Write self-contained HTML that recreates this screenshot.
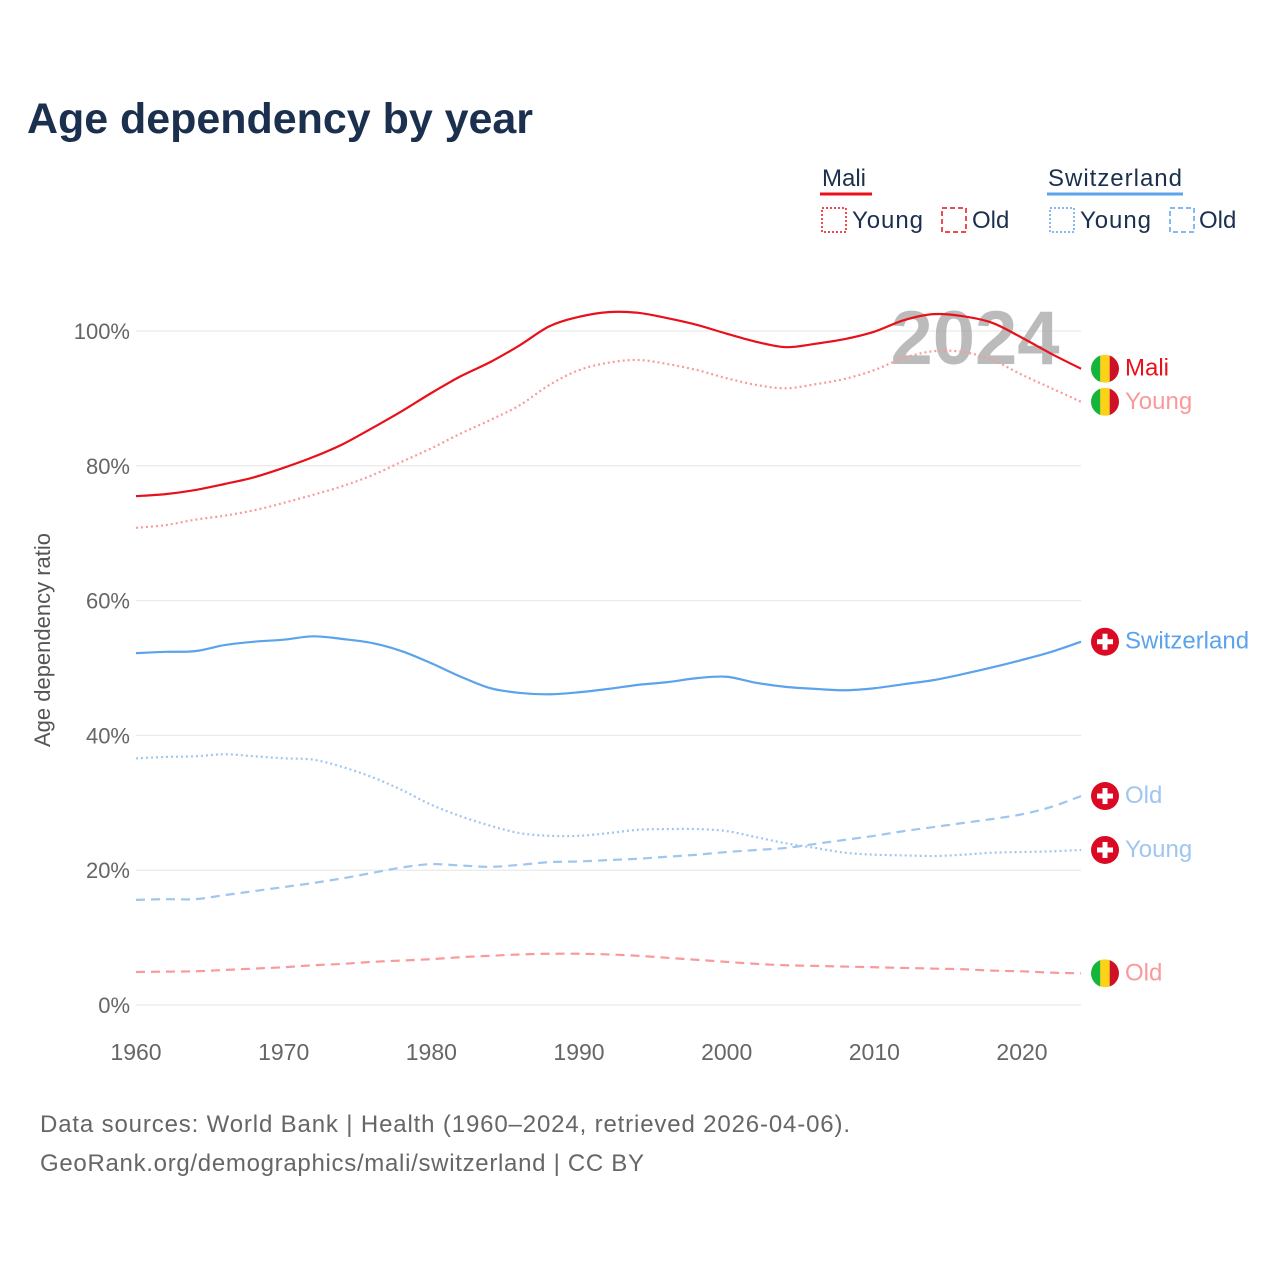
<!DOCTYPE html>
<html><head><meta charset="utf-8"><style>
body{margin:0;background:#fff;font-family:"Liberation Sans",sans-serif;}
svg text{font-family:"Liberation Sans",sans-serif;}
</style></head><body>
<svg width="1280" height="1280" viewBox="0 0 1280 1280">
<text x="27" y="133" font-size="43" font-weight="bold" fill="#1b2f4e" textLength="506">Age dependency by year</text>
<g id="legend" font-size="24" fill="#1b2f4e">
 <text x="822" y="186">Mali</text>
 <line x1="820" y1="194" x2="872" y2="194" stroke="#e8101a" stroke-width="3"/>
 <rect x="822" y="208" width="24" height="24" fill="none" stroke="#e8101a" stroke-width="1.5" stroke-dasharray="2,2"/>
 <text x="852" y="228" textLength="71">Young</text>
 <rect x="942" y="208" width="24" height="24" fill="none" stroke="#e8101a" stroke-width="1.5" stroke-dasharray="5,3"/>
 <text x="972" y="228">Old</text>
 <text x="1048" y="186" textLength="134">Switzerland</text>
 <line x1="1047" y1="194" x2="1183" y2="194" stroke="#5ba3ea" stroke-width="3"/>
 <rect x="1050" y="208" width="24" height="24" fill="none" stroke="#5ba3ea" stroke-width="1.5" stroke-dasharray="2,2"/>
 <text x="1080" y="228" textLength="71">Young</text>
 <rect x="1170" y="208" width="24" height="24" fill="none" stroke="#5ba3ea" stroke-width="1.5" stroke-dasharray="5,3"/>
 <text x="1199" y="228">Old</text>
</g>
<g id="grid"></g>
<text x="975" y="364" font-size="76" font-weight="bold" fill="#aaa" fill-opacity="0.8" text-anchor="middle">2024</text>
<g id="series"></g>
<g id="labels"></g>
<text transform="translate(50,640) rotate(-90)" font-size="22" fill="#555" text-anchor="middle">Age dependency ratio</text>
<text x="40" y="1132" font-size="24" fill="#666" textLength="810">Data sources: World Bank | Health (1960–2024, retrieved 2026-04-06).</text>
<text x="40" y="1171" font-size="24" fill="#666" textLength="604">GeoRank.org/demographics/mali/switzerland | CC BY</text>
</svg>
<script>
const years=[1960,1962,1964,1966,1968,1970,1972,1974,1976,1978,1980,1982,1984,1986,1988,1990,1992,1994,1996,1998,2000,2002,2004,2006,2008,2010,2012,2014,2016,2018,2020,2022,2024];
const maliTotal=[75.5,75.8,76.4,77.3,78.3,79.7,81.3,83.2,85.6,88.1,90.8,93.3,95.4,97.9,100.7,102.1,102.8,102.7,101.9,100.9,99.6,98.4,97.6,98.1,98.8,99.9,101.6,102.5,102.2,101.2,99.0,96.6,94.4];
const maliYoung=[70.8,71.2,72.0,72.6,73.4,74.5,75.7,77.0,78.6,80.6,82.6,84.8,86.8,89.0,92.0,94.2,95.3,95.7,95.1,94.2,93.0,92.0,91.5,92.1,92.9,94.2,96.0,97.0,96.9,95.7,93.5,91.5,89.5];
const maliOld=[4.9,4.95,5.0,5.2,5.4,5.6,5.9,6.1,6.4,6.6,6.8,7.1,7.3,7.5,7.6,7.6,7.5,7.3,7.0,6.7,6.4,6.1,5.9,5.8,5.7,5.6,5.5,5.4,5.3,5.1,5.0,4.8,4.7];
const swissTotal=[52.2,52.4,52.5,53.4,53.9,54.2,54.7,54.3,53.7,52.5,50.7,48.7,47.0,46.3,46.1,46.4,46.9,47.5,47.9,48.5,48.7,47.8,47.2,46.9,46.7,47.0,47.6,48.2,49.1,50.1,51.2,52.4,53.9];
const swissYoung=[36.6,36.8,36.9,37.2,36.9,36.6,36.4,35.3,33.8,31.9,29.7,28.0,26.6,25.5,25.1,25.1,25.5,26.0,26.1,26.1,25.8,24.9,24.0,23.3,22.6,22.3,22.2,22.1,22.3,22.6,22.7,22.8,23.0];
const swissOld=[15.6,15.7,15.7,16.3,16.9,17.5,18.1,18.8,19.6,20.4,20.9,20.7,20.5,20.8,21.2,21.3,21.5,21.7,22.0,22.3,22.7,23.0,23.3,23.9,24.5,25.1,25.8,26.4,27.0,27.6,28.3,29.4,31.0];
const yTicks=[0,20,40,60,80,100];
const xTicks=[1960,1970,1980,1990,2000,2010,2020];
const NS="http://www.w3.org/2000/svg";
const X=y=>136+(y-1960)*(886/60);
const Y=v=>1005-v*6.74;
function mk(tag,attrs,parent){const e=document.createElementNS(NS,tag);for(const k in attrs)e.setAttribute(k,attrs[k]);parent.appendChild(e);return e;}
const grid=document.getElementById('grid');
yTicks.forEach(t=>{
 const l=mk('line',{x1:136,x2:1081,y1:Y(t),y2:Y(t),stroke:'#e6e6e6','stroke-width':1},grid);
 
 
 const tx=mk('text',{x:130,y:Y(t)+8,'font-size':22,fill:'#666','text-anchor':'end'},grid);
 tx.textContent=t+'%';
 
 
});
xTicks.forEach(t=>{
 const tx=mk('text',{x:X(t),y:1060,'font-size':23,fill:'#666','text-anchor':'middle'},grid);
 tx.textContent=t;
 
 
});
function path(vals){
 const p=years.map((y,i)=>[X(y),Y(vals[i])]);
 let d='M'+p[0][0]+','+p[0][1];
 for(let i=0;i<p.length-1;i++){
  const p0=p[Math.max(0,i-1)],p1=p[i],p2=p[i+1],p3=p[Math.min(p.length-1,i+2)];
  const c1=[p1[0]+(p2[0]-p0[0])/6,p1[1]+(p2[1]-p0[1])/6];
  const c2=[p2[0]-(p3[0]-p1[0])/6,p2[1]-(p3[1]-p1[1])/6];
  d+=' C'+c1+' '+c2+' '+p2;
 }
 return d;
}
const sg=document.getElementById('series');
const series=[
 [maliOld,'#f99a9a','9,6','mali-old-line'],
 [swissOld,'#9fc6ef','9,6','switzerland-old-line'],
 [swissYoung,'#9fc6ef','2,3','switzerland-young-line'],
 [maliYoung,'#f99a9a','2,3','mali-young-line'],
 [swissTotal,'#5ba3ea','','switzerland-total-line'],
 [maliTotal,'#e8101a','','mali-total-line']];
series.forEach(s=>{
 const e=mk('path',{d:path(s[0]),fill:'none',stroke:s[1],'stroke-width':2.2},sg);
 if(s[2])e.setAttribute('stroke-dasharray',s[2]);
 
 
});
const lg=document.getElementById('labels');
function flag(cy,type){
 const g=mk('g',{},lg);
 
 
 const cx=1105,r=14;
 const id='c'+Math.round(cy);
 const cp=mk('clipPath',{id:id},g);mk('circle',{cx:cx,cy:cy,r:r},cp);
 if(type==='mali'){
  mk('rect',{x:cx-r,y:cy-r,width:r*2/3,height:2*r,fill:'#14b53a','clip-path':'url(#'+id+')'},g);
  mk('rect',{x:cx-r/3,y:cy-r,width:r*2/3,height:2*r,fill:'#fcd116','clip-path':'url(#'+id+')'},g);
  mk('rect',{x:cx+r/3,y:cy-r,width:r*2/3,height:2*r,fill:'#ce1126','clip-path':'url(#'+id+')'},g);
 } else {
  mk('circle',{cx:cx,cy:cy,r:r,fill:'#da0a25'},g);
  mk('rect',{x:cx-2.5,y:cy-8,width:5,height:16,fill:'#fff'},g);
  mk('rect',{x:cx-8,y:cy-2.5,width:16,height:5,fill:'#fff'},g);
 }
}
const labs=[[maliTotal,'Mali','#e8101a','mali'],[maliYoung,'Young','#f99a9a','mali'],[swissTotal,'Switzerland','#5ba3ea','swiss'],[swissOld,'Old','#9fc6ef','swiss'],[swissYoung,'Young','#9fc6ef','swiss'],[maliOld,'Old','#f99a9a','mali']];
labs.forEach(l=>{
 const cy=Y(l[0][l[0].length-1]);
 flag(cy,l[3]);
 const t=mk('text',{x:1125,y:cy+7,'font-size':24,fill:l[2]},lg);
 t.textContent=l[1];
 
 
});
</script>
</body></html>
